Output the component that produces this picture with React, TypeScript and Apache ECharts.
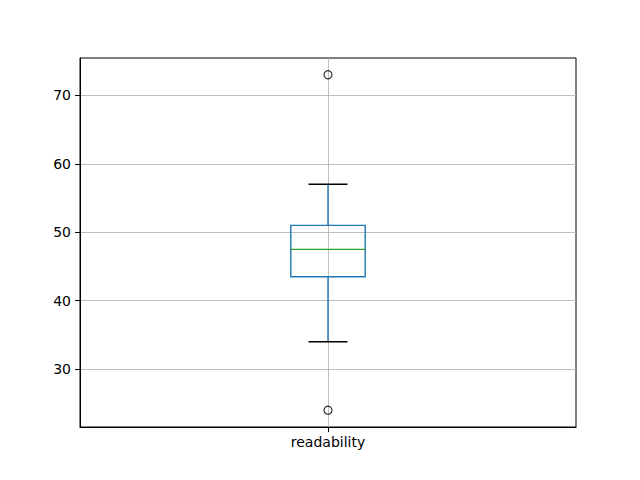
import React, { useEffect, useRef } from "react";
import * as echarts from "echarts";

const categories = ["readability"];
const whiskerLow = [34];
const q1 = [43.5];
const median = [47.5];
const q3 = [51];
const whiskerHigh = [57];
const outliers: number[][] = [[1, 73], [1, 24]];
const yTicks = [30, 40, 50, 60, 70];
const yMin = 21.55;
const yMax = 75.45;

const BLUE = "#1f77b4";
const GREEN = "#2ca02c";
const FONT = "DejaVu Sans";

export default function App() {
  const ref = useRef<HTMLDivElement>(null);
  useEffect(() => {
    document.body.style.margin = "0";
    const chart = echarts.init(ref.current!, null, { renderer: "svg" });
    const boxData = categories.map((_, i) => [
      i + 1,
      whiskerLow[i],
      q1[i],
      median[i],
      q3[i],
      whiskerHigh[i],
    ]);
    const halfBox = 37.2;
    const halfCap = 19.5;
    chart.setOption({
      animation: false,
      backgroundColor: "#fff",
      grid: {
        left: 80,
        right: 64,
        top: 58,
        bottom: 53,
        show: true,
        borderColor: "#000",
        borderWidth: 1,
        backgroundColor: "transparent",
      },
      xAxis: {
        type: "value",
        min: 0,
        max: 2,
        interval: 1,
        axisLine: { show: true, lineStyle: { color: "#000", width: 1 } },
        axisTick: {
          show: true,
          length: 5,
          customValues: [1],
          lineStyle: { color: "#000", width: 1 },
        },
        axisLabel: {
          customValues: [1],
          formatter: (v: number) => categories[Math.round(v) - 1] ?? "",
          color: "#000",
          fontSize: 14,
          fontFamily: FONT,
          margin: 8,
        },
        splitLine: { show: true, lineStyle: { color: "#b0b0b0", width: 0.8 } },
      },
      yAxis: {
        type: "value",
        min: yMin,
        max: yMax,
        axisLine: { show: true, lineStyle: { color: "#000", width: 1 } },
        axisTick: {
          show: true,
          length: 5,
          customValues: yTicks,
          lineStyle: { color: "#000", width: 1 },
        },
        axisLabel: {
          customValues: yTicks,
          formatter: (v: number) => String(v),
          color: "#000",
          fontSize: 14,
          fontFamily: FONT,
          margin: 9,
        },
        splitLine: { show: true, lineStyle: { color: "#b0b0b0", width: 0.8 } },
      },
      series: [
        {
          type: "custom",
          data: boxData,
          encode: { x: 0, y: [1, 2, 3, 4, 5] },
          renderItem: (params: any, api: any) => {
            const x = api.value(0);
            const lo = api.coord([x, api.value(1)]);
            const b1 = api.coord([x, api.value(2)]);
            const md = api.coord([x, api.value(3)]);
            const b3 = api.coord([x, api.value(4)]);
            const hi = api.coord([x, api.value(5)]);
            const cx = lo[0];
            const lw = 1.4;
            return {
              type: "group",
              children: [
                {
                  type: "line",
                  shape: { x1: cx, y1: b3[1], x2: cx, y2: hi[1] },
                  style: { stroke: BLUE, lineWidth: lw },
                },
                {
                  type: "line",
                  shape: { x1: cx, y1: b1[1], x2: cx, y2: lo[1] },
                  style: { stroke: BLUE, lineWidth: lw },
                },
                {
                  type: "rect",
                  shape: {
                    x: cx - halfBox,
                    y: b3[1],
                    width: halfBox * 2,
                    height: b1[1] - b3[1],
                  },
                  style: { stroke: BLUE, fill: "none", lineWidth: lw },
                },
                {
                  type: "line",
                  shape: { x1: cx - halfBox, y1: md[1], x2: cx + halfBox, y2: md[1] },
                  style: { stroke: GREEN, lineWidth: lw },
                },
                {
                  type: "line",
                  shape: { x1: cx - halfCap, y1: hi[1], x2: cx + halfCap, y2: hi[1] },
                  style: { stroke: "#000", lineWidth: lw },
                },
                {
                  type: "line",
                  shape: { x1: cx - halfCap, y1: lo[1], x2: cx + halfCap, y2: lo[1] },
                  style: { stroke: "#000", lineWidth: lw },
                },
              ],
            };
          },
        },
        {
          type: "scatter",
          data: outliers,
          symbol: "circle",
          symbolSize: 8,
          itemStyle: {
            color: "rgba(0,0,0,0)",
            borderColor: "#000",
            borderWidth: 1.2,
          },
        },
      ],
    });
    return () => chart.dispose();
  }, []);
  return <div ref={ref} style={{ width: 640, height: 480 }} />;
}
